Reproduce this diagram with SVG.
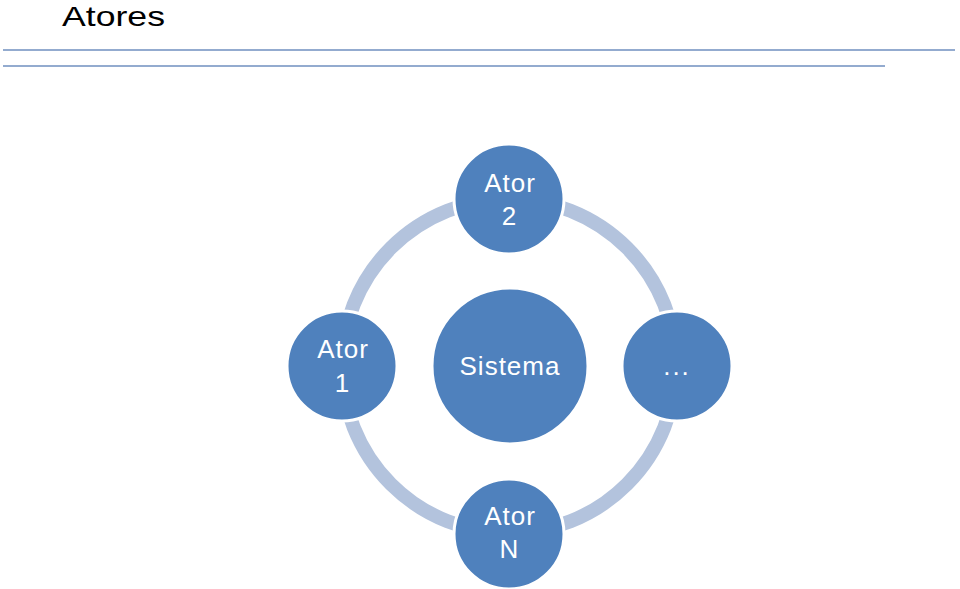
<svg xmlns="http://www.w3.org/2000/svg" width="960" height="589" viewBox="0 0 960 589">
<style>
.node{fill:#4f81bd;stroke:#ffffff;stroke-width:3}
.arc{fill:none;stroke:#b3c3dd;stroke-width:14}
.lbl{font-family:"Liberation Sans",Arial,sans-serif;font-size:26px;fill:#ffffff;text-anchor:middle}
.rule{stroke:#6f8fbf;stroke-width:1.5}
</style>
<rect width="960" height="589" fill="#ffffff"/>
<text x="62" y="26" font-family="Liberation Sans,Arial,sans-serif" font-size="28" fill="#000000" textLength="103" lengthAdjust="spacingAndGlyphs">Atores</text>
<line class="rule" x1="3" y1="50" x2="955" y2="50"/>
<line class="rule" x1="3" y1="66" x2="885" y2="66"/>
<g id="connectors">
<path class="arc" d="M509,199 A167,167 0 0 1 676,366"/>
<path class="arc" d="M676,366 A167,167 0 0 1 509,533"/>
<path class="arc" d="M509,533 A167,167 0 0 1 342,366"/>
<path class="arc" d="M342,366 A167,167 0 0 1 509,199"/>
</g>
<g id="sistema"><circle class="node" cx="510" cy="366" r="78"/><text class="lbl" x="510" y="375" font-size="27" letter-spacing="1">Sistema</text></g>
<g id="ator2"><circle class="node" cx="509" cy="199" r="55"/><text class="lbl" x="510" y="192" letter-spacing="1">Ator</text><text class="lbl" x="509" y="225">2</text></g>
<g id="ator1"><circle class="node" cx="342" cy="366" r="55"/><text class="lbl" x="343" y="358" letter-spacing="1">Ator</text><text class="lbl" x="342" y="392">1</text></g>
<g id="etc"><circle class="node" cx="677" cy="366" r="55"/><text class="lbl" x="677" y="375" letter-spacing="2">...</text></g>
<g id="atorN"><circle class="node" cx="509" cy="534" r="55"/><text class="lbl" x="510" y="525" letter-spacing="1">Ator</text><text class="lbl" x="509" y="558">N</text></g>
</svg>
